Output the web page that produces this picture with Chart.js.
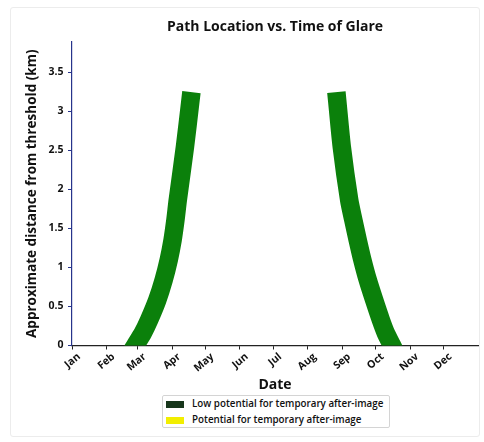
<!DOCTYPE html>
<html>
<head>
<meta charset="utf-8">
<script src="https://cdn.jsdelivr.net/npm/chart.js@4.4.1/dist/chart.umd.min.js"></script>
<style>
  html, body { margin: 0; padding: 0; background: #fff; }
  #wrap { position: relative; width: 484px; height: 442px; }
  #frame { position: absolute; left: 10px; top: 7px; width: 470px; height: 430px;
           border: 1px solid #ececec; border-radius: 3px; box-sizing: border-box; }
  #chart { position: absolute; left: 0; top: 0; }
  #legend { position: absolute; left: 162px; top: 395px; width: 228px; height: 33px;
            border: 1px solid #d4d4d4; border-radius: 2px; box-sizing: border-box;
            background: #fff; font: 600 9.8px "Open Sans", sans-serif; color: #111; }
  #legend .row { position: absolute; left: 3px; height: 14px; line-height: 14px; white-space: nowrap; }
  #legend .sw { display: inline-block; width: 18px; height: 7px; margin-right: 8px; vertical-align: -1px; }
</style>
</head>
<body>
<div id="wrap">
  <div id="frame"></div>
  <canvas id="chart" width="484" height="442"></canvas>
  <div id="legend"></div>
</div>
<script>
// x = day of year, y = distance from threshold (km), centre of the glare band
var springDays = [56.8, 63.7, 69.4, 76.6, 82.4, 87.0, 90.4, 93.0, 95.1, 101.5, 106.4];
var springKm   = [0, 0.16, 0.33, 0.58, 0.84, 1.10, 1.35, 1.61, 1.865, 2.54, 3.13];
var autumnDays = [238.5, 242.6, 249.2, 252.9, 256.9, 261.0, 265.9, 271.7, 277.6, 282.1, 287.7];
var autumnKm   = [3.13, 2.54, 1.865, 1.61, 1.35, 1.10, 0.84, 0.58, 0.33, 0.16, 0];

var monthStarts = [0, 31, 59, 90, 120, 151, 181, 212, 243, 273, 304, 334];
var monthLabels = ['Jan', 'Feb', 'Mar', 'Apr', 'May', 'Jun', 'Jul', 'Aug', 'Sep', 'Oct', 'Nov', 'Dec'];
var kmTicks = [0, 0.5, 1, 1.5, 2, 2.5, 3, 3.5];

var legendLabels = ['Low potential for temporary after-image', 'Potential for temporary after-image'];
var legendColors = ['#17361b', '#f2ee00'];

function toPoints(xs, ys) {
  var pts = [];
  for (var i = 0; i < xs.length; i++) {
    pts.push({ x: xs[i], y: ys[i] });
  }
  return pts;
}

function band(label, xs, ys) {
  return {
    label: label,
    data: toPoints(xs, ys),
    borderColor: '#0b800b',
    backgroundColor: '#0b800b',
    borderWidth: 18.5,
    borderCapStyle: 'square',
    borderJoinStyle: 'round',
    tension: 0.25,
    pointRadius: 0,
    fill: false,
    clip: 0
  };
}

var FONT = '"Open Sans", sans-serif';

new Chart(document.getElementById('chart').getContext('2d'), {
  type: 'line',
  data: {
    datasets: [
      band(legendLabels[0], springDays, springKm),
      band(legendLabels[0], autumnDays, autumnKm)
    ]
  },
  options: {
    responsive: false,
    animation: false,
    layout: { padding: { left: 10, right: 6, top: 0, bottom: 47 } },
    plugins: {
      legend: { display: false },
      tooltip: { enabled: false },
      title: {
        display: true,
        fullSize: false,
        text: 'Path Location vs. Time of Glare',
        color: '#111',
        font: { family: FONT, size: 14, weight: 'bold' },
        padding: { top: 19, bottom: 6.2 }
      }
    },
    scales: {
      x: {
        type: 'linear',
        min: 0,
        max: 365,
        afterFit: function(scale) { scale.height = 49.5; },
        afterBuildTicks: function(scale) {
          scale.ticks = monthStarts.map(function(v) { return { value: v }; });
        },
        ticks: {
          autoSkip: false,
          minRotation: 40,
          maxRotation: 40,
          padding: 1,
          labelOffset: 7,
          color: '#111',
          font: { family: FONT, size: 10.5, weight: 'bold' },
          callback: function(value) {
            var i = monthStarts.indexOf(value);
            return i >= 0 ? monthLabels[i] : '';
          }
        },
        grid: { drawOnChartArea: false, drawTicks: true, tickLength: 4, color: '#222' },
        border: { display: true, color: '#222', width: 1.2 },
        title: {
          display: true,
          text: 'Date',
          color: '#111',
          font: { family: FONT, size: 14, weight: 'bold' },
          padding: { top: 0, bottom: 1.6 }
        }
      },
      y: {
        type: 'linear',
        min: 0,
        max: 3.89,
        afterFit: function(scale) { scale.width = 62; },
        afterBuildTicks: function(scale) {
          scale.ticks = kmTicks.map(function(v) { return { value: v }; });
        },
        ticks: {
          padding: 4.5,
          color: '#111',
          font: { family: FONT, size: 10.5, weight: 'bold' },
          callback: function(value) { return String(value); }
        },
        grid: { drawOnChartArea: false, drawTicks: true, tickLength: 4, color: '#27348b' },
        border: { display: true, color: '#27348b', width: 1.2 },
        title: {
          display: true,
          text: 'Approximate distance from threshold (km)',
          color: '#111',
          font: { family: FONT, size: 13.5, weight: 'bold' },
          padding: { top: 13.8, bottom: 0 }
        }
      }
    }
  }
});

// legend drawn as html below the plot
var legendEl = document.getElementById('legend');
for (var i = 0; i < legendLabels.length; i++) {
  var row = document.createElement('div');
  row.className = 'row';
  row.style.top = (1 + i * 16) + 'px';
  var sw = document.createElement('span');
  sw.className = 'sw';
  sw.style.background = legendColors[i];
  row.appendChild(sw);
  row.appendChild(document.createTextNode(legendLabels[i]));
  legendEl.appendChild(row);
}
</script>
</body>
</html>
